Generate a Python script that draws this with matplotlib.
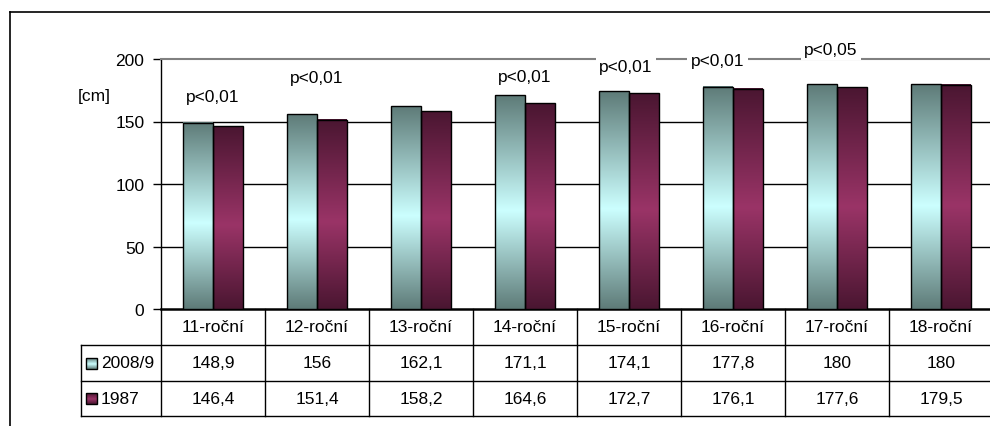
import numpy as np
import matplotlib
matplotlib.use("Agg")
import matplotlib.pyplot as plt
from matplotlib.colors import LinearSegmentedColormap
from matplotlib.transforms import blended_transform_factory
from matplotlib.lines import Line2D

# ---- data ----
categories = ["11-roční", "12-roční", "13-roční", "14-roční", "15-roční", "16-roční", "17-roční", "18-roční"]
series_names = ["2008/9", "1987"]
values_2008 = [148.9, 156, 162.1, 171.1, 174.1, 177.8, 180, 180]
values_1987 = [146.4, 151.4, 158.2, 164.6, 172.7, 176.1, 177.6, 179.5]
table_2008 = ["148,9", "156", "162,1", "171,1", "174,1", "177,8", "180", "180"]
table_1987 = ["146,4", "151,4", "158,2", "164,6", "172,7", "176,1", "177,6", "179,5"]
p_labels = ["p<0,01", "p<0,01", "", "p<0,01", "p<0,01", "p<0,01", "p<0,05", ""]
y_ticks = [0, 50, 100, 150, 200]
y_unit = "[cm]"

# ---- layout / style ----
label_pos_y = [170, 185, None, 186, 194, 198.5, 208, None]
label_pos_dx = [0, 0, 0, 0, -0.03, -0.15, -0.06, 0]
FS = 12.5
plt.rcParams['font.family'] = ['Liberation Sans', 'DejaVu Sans']

W, H = 990, 427
fig = plt.figure(figsize=(W / 100, H / 100), dpi=100)
fig.patch.set_facecolor("white")

ax_left, ax_right, ax_top, ax_bot = 161, 993, 60, 310
ax = fig.add_axes([ax_left / W, 1 - ax_bot / H, (ax_right - ax_left) / W, (ax_bot - ax_top) / H])
ax.set_xlim(-0.5, len(categories) - 0.5)
ax.set_ylim(0, 200)

cmap_c = LinearSegmentedColormap.from_list("c", [(0, "#5E7B78"), (0.46, "#CCFFFF"), (1, "#5E7B78")])
cmap_m = LinearSegmentedColormap.from_list("m", [(0, "#4A1631"), (0.46, "#9A3467"), (1, "#4A1631")])
grad = np.linspace(0, 1, 256).reshape(-1, 1)

bw = 30 / 104
x = np.arange(len(categories))
bars_c = ax.bar(x - bw / 2, values_2008, width=bw, facecolor="none", edgecolor="black", linewidth=1.0, zorder=4)
bars_m = ax.bar(x + bw / 2, values_1987, width=bw, facecolor="none", edgecolor="black", linewidth=1.0, zorder=4)
for bars, cm in ((bars_c, cmap_c), (bars_m, cmap_m)):
    for b in bars:
        x0, y0 = b.get_x(), b.get_y()
        ax.imshow(grad, cmap=cm, aspect="auto", extent=[x0, x0 + b.get_width(), y0, y0 + b.get_height()],
                  origin="lower", zorder=3, interpolation="bilinear")
ax.set_xlim(-0.5, len(categories) - 0.5)
ax.set_ylim(0, 200)

# gridlines
for yt in y_ticks[1:-1]:
    ax.axhline(yt, color="black", linewidth=1.0, zorder=1)
ax.set_yticks(y_ticks)
ax.set_yticklabels([str(t) for t in y_ticks], fontsize=FS)
ax.tick_params(axis="y", length=6, width=1, pad=6, direction="out")
ax.set_xticks([])
ax.spines["top"].set_color("#808080")
ax.spines["top"].set_linewidth(1.5)
ax.spines["right"].set_visible(False)
ax.spines["left"].set_linewidth(1.0)
ax.spines["bottom"].set_linewidth(1.8)

# p labels
for i, lab in enumerate(p_labels):
    if lab:
        ax.text(i + label_pos_dx[i], label_pos_y[i], lab, ha="center", va="center", fontsize=FS, zorder=6,
                clip_on=False, bbox=dict(facecolor="white", edgecolor="none", pad=2.5))

ax.text(-0.5 - (161 - 94) / 104, 170.4, y_unit, ha="center", va="center", fontsize=FS, clip_on=False)

# ---- data table ----
tr = blended_transform_factory(ax.transData, ax.transAxes)
px = 1 / (ax_bot - ax_top)
rows = [0, -36 * px, -72 * px, -107 * px]
leg_left = -0.5 - 80 / 104
lw = 1.0
for r in rows[1:]:
    ax.add_line(Line2D([leg_left, len(categories)], [r, r], transform=tr, color="black", lw=lw, clip_on=False))
for i in range(len(categories) + 1):
    xb = i - 0.5
    ax.add_line(Line2D([xb, xb], [rows[0], rows[-1]], transform=tr, color="black", lw=lw, clip_on=False))
ax.add_line(Line2D([leg_left, leg_left], [rows[1], rows[-1]], transform=tr, color="black", lw=lw, clip_on=False))

for i, c in enumerate(categories):
    ax.text(i, (rows[0] + rows[1]) / 2, c, transform=tr, ha="center", va="center", fontsize=FS, clip_on=False)
    ax.text(i, (rows[1] + rows[2]) / 2, table_2008[i], transform=tr, ha="center", va="center", fontsize=FS, clip_on=False)
    ax.text(i, (rows[2] + rows[3]) / 2, table_1987[i], transform=tr, ha="center", va="center", fontsize=FS, clip_on=False)

# legend keys + names
key_w = 11 / 104
key_h = 11 * px
for (r0, r1), name, cm in (((rows[1], rows[2]), series_names[0], cmap_c), ((rows[2], rows[3]), series_names[1], cmap_m)):
    yc = (r0 + r1) / 2
    kx0 = leg_left + 5 / 104
    ax.imshow(grad, cmap=cm, aspect="auto", extent=[kx0, kx0 + key_w, yc - key_h / 2, yc + key_h / 2],
              origin="lower", transform=tr, zorder=5, clip_on=False, interpolation="bilinear")
    ax.add_patch(plt.Rectangle((kx0, yc - key_h / 2), key_w, key_h, transform=tr, facecolor="none",
                               edgecolor="black", lw=1.0, clip_on=False, zorder=6))
    ax.text(leg_left + 20 / 104, yc, name, transform=tr, ha="left", va="center", fontsize=FS, clip_on=False)
ax.set_xlim(-0.5, len(categories) - 0.5)
ax.set_ylim(0, 200)

# outer chart frame
fig.add_artist(Line2D([10 / W, 10 / W], [0, 1 - 13 / H], color="black", lw=1.2))
fig.add_artist(Line2D([10 / W, 1], [1 - 13 / H, 1 - 13 / H], color="black", lw=1.2))

fig.savefig("out.png", dpi=100)
